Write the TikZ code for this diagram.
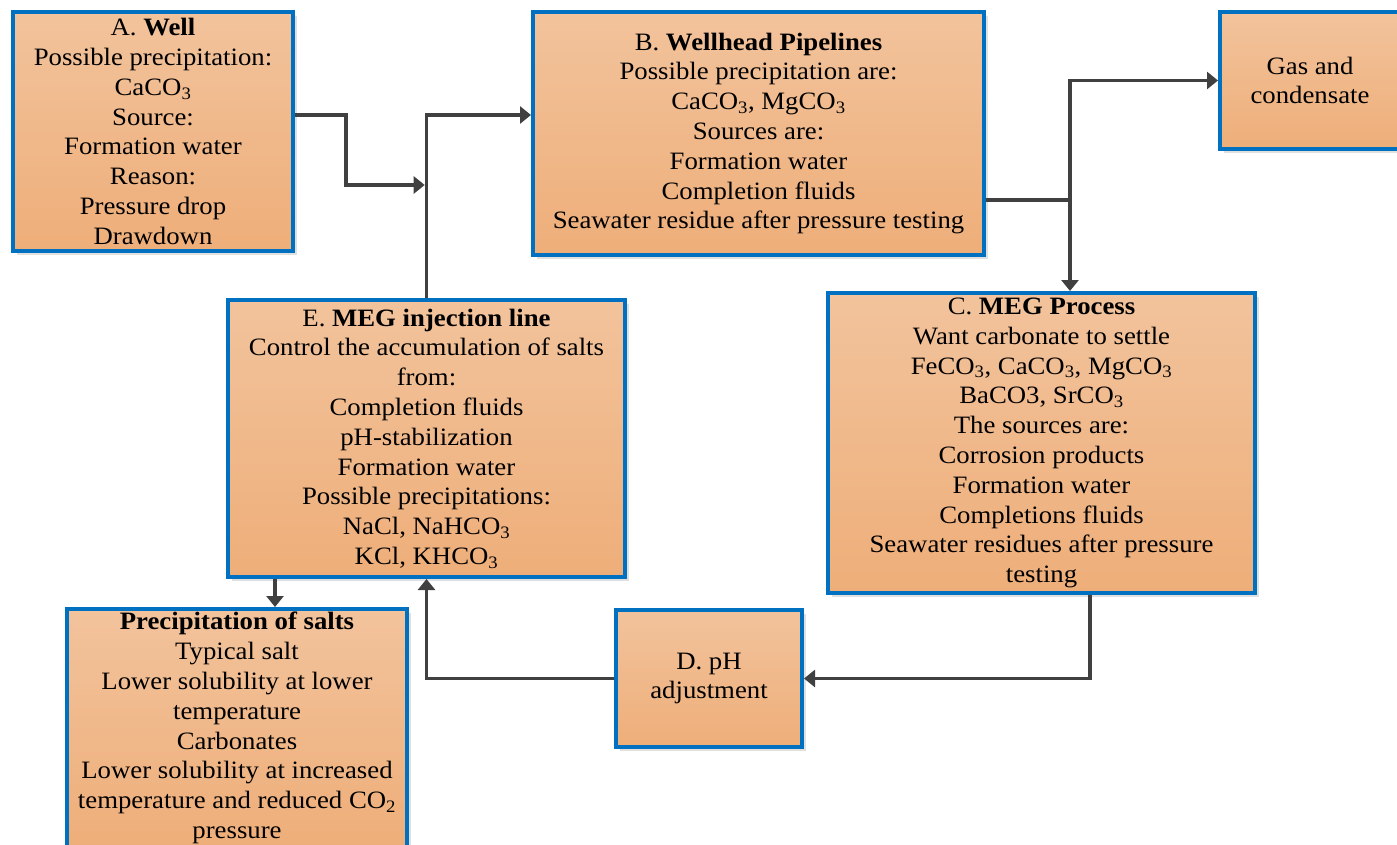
\documentclass[tikz,border=0pt]{standalone}
\usepackage{fontspec}
\setmainfont{Liberation Serif}[FakeStretch=1.07]
\usetikzlibrary{arrows.meta,shadows}

\definecolor{boxtop}{HTML}{F2C39C}
\definecolor{boxbottom}{HTML}{EEAE79}
\definecolor{boxline}{HTML}{0070C0}
\definecolor{connline}{HTML}{404040}

\tikzset{
  stage/.style={draw=boxline, line width=4pt, top color=boxtop, bottom color=boxbottom,
    align=center, inner sep=0pt, font=\fontsize{25}{29.8}\selectfont,
    drop shadow={shadow xshift=4pt, shadow yshift=-4pt, fill=black!12, opacity=1}},
  pipe/.style={draw=connline, line width=3.6pt},
  flow/.style={pipe, -{Triangle[length=11pt,width=17pt]}},
}

\begin{document}
\begin{tikzpicture}[x=1pt,y=-1pt]
\useasboundingbox (0,0) rectangle (1397,845);

% process stages
\node[stage, minimum width=280pt, minimum height=239pt] (A) at (153,131.5)
  {A. \textbf{Well}\\ Possible precipitation:\\ CaCO\textsubscript{3}\\ Source:\\
   Formation water\\ Reason:\\ Pressure drop\\ Drawdown};

\node[stage, minimum width=451pt, minimum height=243pt] (B) at (758.5,133.5)
  {B. \textbf{Wellhead Pipelines}\\ Possible precipitation are:\\
   CaCO\textsubscript{3}, MgCO\textsubscript{3}\\ Sources are:\\ Formation water\\
   Completion fluids\\ Seawater residue after pressure testing};

\node[stage, minimum width=180pt, minimum height=137pt] (G) at (1310,80.5)
  {Gas and\\ condensate};

\node[stage, minimum width=397pt, minimum height=277pt] (E) at (426.5,438.5)
  {E. \textbf{MEG injection line}\\ Control the accumulation of salts\\ from:\\
   Completion fluids\\ pH-stabilization\\ Formation water\\ Possible precipitations:\\
   NaCl, NaHCO\textsubscript{3}\\ KCl, KHCO\textsubscript{3}};

\node[stage, minimum width=427pt, minimum height=300pt] (C) at (1041.5,443)
  {C. \textbf{MEG Process}\\ Want carbonate to settle\\
   FeCO\textsubscript{3}, CaCO\textsubscript{3}, MgCO\textsubscript{3}\\
   BaCO3, SrCO\textsubscript{3}\\ The sources are:\\ Corrosion products\\
   Formation water\\ Completions fluids\\ Seawater residues after pressure\\ testing};

\node[stage, minimum width=186pt, minimum height=137pt] (D) at (709,678.5)
  {D. pH\\ adjustment};

\node[stage, minimum width=340pt, minimum height=238pt] (P) at (237,728)
  {\textbf{Precipitation of salts}\\ Typical salt\\ Lower solubility at lower\\
   temperature\\ Carbonates\\ Lower solubility at increased\\
   temperature and reduced CO\textsubscript{2}\\ pressure};

% connectors
\draw[flow, shorten >=1.8pt] ([yshift=16.5pt]A.east) -- ++(51,0) |- (E.north |- 0,185);
\draw[flow] (E.north) |- ([yshift=18.5pt]B.west);
\draw[pipe] ([yshift=-66.5pt]B.east) -- (1070,200) coordinate (split);
\draw[flow] (split) |- (G.west);
\draw[flow] (split) -- (split |- C.north);
\draw[flow] ([xshift=48.5pt]C.south) |- (D.east);
\draw[flow] (D.west) -| (E.south);
\draw[flow] ([xshift=-151.5pt]E.south) -- ([xshift=-151.5pt]E.south |- P.north);
\end{tikzpicture}
\end{document}
